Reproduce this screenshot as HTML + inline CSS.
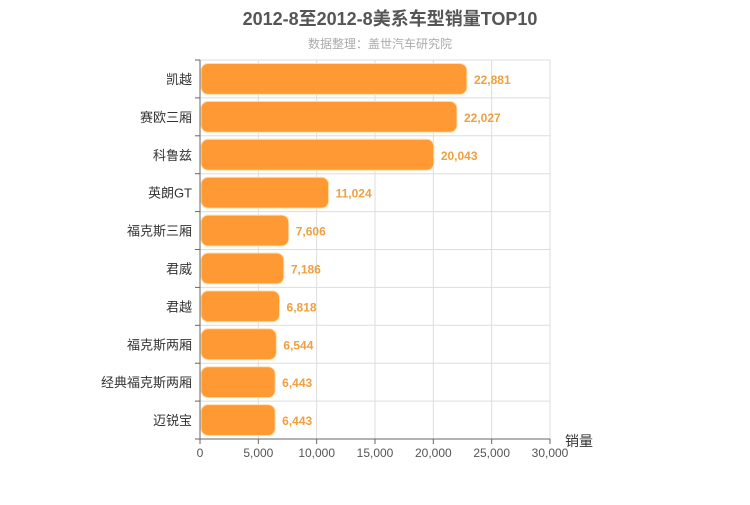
<!DOCTYPE html>
<html><head><meta charset="utf-8"><style>
body{margin:0;background:#fff;}
svg{font-family:"Liberation Sans","Noto Sans CJK SC",sans-serif;}
</style></head><body>
<svg id="c" width="750" height="500">
<text x="390" y="25" text-anchor="middle" font-size="18" font-weight="bold" fill="#555">2012-8至2012-8美系车型销量TOP10</text>
<text x="380" y="48" text-anchor="middle" font-size="12" fill="#aaa">数据整理：盖世汽车研究院</text>
<g id="grid"></g><g id="bars"></g><g id="axes"></g>
<text x="565" y="446" font-size="14" fill="#333">销量</text>
</svg>
<script>
const categories=["凯越","赛欧三厢","科鲁兹","英朗GT","福克斯三厢","君威","君越","福克斯两厢","经典福克斯两厢","迈锐宝"];
const values=[22881,22027,20043,11024,7606,7186,6818,6544,6443,6443];
const ticks=[0,5000,10000,15000,20000,25000,30000];
const NS="http://www.w3.org/2000/svg";
const X0=200,X1=550,Y0=60,Y1=439,MAX=30000;
const x=v=>X0+(v/MAX)*(X1-X0);
const rh=(Y1-Y0)/categories.length;
const y=i=>Y0+i*rh;
function mk(t,a,p){const e=document.createElementNS(NS,t);for(const k in a)e.setAttribute(k,a[k]);p.appendChild(e);return e;}
const g=document.getElementById('grid'),b=document.getElementById('bars'),ax=document.getElementById('axes');
ticks.forEach(t=>{const l=mk('line',{x1:x(t),x2:x(t),y1:Y0,y2:Y1,stroke:'#ddd'},g);


const tl=mk('text',{x:x(t),y:Y1+18,'text-anchor':'middle','font-size':12,fill:'#555'},ax);tl.textContent=t.toLocaleString('en-US');


mk('line',{x1:x(t),x2:x(t),y1:Y1,y2:Y1+5,stroke:'#666'},ax);});
for(let i=0;i<=categories.length;i++){const l=mk('line',{x1:X0,x2:X1,y1:y(i),y2:y(i),stroke:'#ddd'},g);


mk('line',{x1:X0-5,x2:X0,y1:y(i),y2:y(i),stroke:'#666'},ax);}
categories.forEach((c,i)=>{const v=values[i];
const r=mk('rect',{x:X0+1,y:y(i)+3.5,width:x(v)-X0-1,height:rh-7,rx:7,fill:'#ff9933',stroke:'#ffe0b0','stroke-width':1},b);


const vl=mk('text',{x:x(v)+7,y:y(i)+rh/2+5,'font-size':12,'font-weight':'bold',fill:'#f0a040'},b);vl.textContent=v.toLocaleString('en-US');


const cl=mk('text',{x:X0-8,y:y(i)+rh/2+5,'text-anchor':'end','font-size':13,fill:'#333'},ax);cl.textContent=c;

});
const a1=mk('line',{x1:X0,x2:X0,y1:Y0,y2:Y1,stroke:'#666'},ax);


const a2=mk('line',{x1:X0,x2:X1,y1:Y1,y2:Y1,stroke:'#666'},ax);


</script>
</body></html>
